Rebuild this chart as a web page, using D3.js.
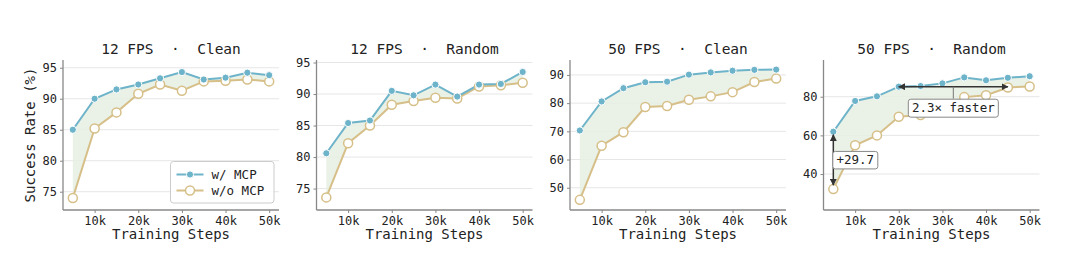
<!DOCTYPE html>
<html>
<head>
<meta charset="utf-8">
<script src="https://cdn.jsdelivr.net/npm/d3@7"></script>
<style>
  body { margin: 0; background: #fff; }
  text { font-family: "DejaVu Sans Mono", monospace; fill: #222; white-space: pre; }
</style>
</head>
<body>
<div id="chart_area"></div>
<script>
// training steps (k)
var steps = [5, 10, 15, 20, 25, 30, 35, 40, 45, 50];
var xTicks = [10, 20, 30, 40, 50];

var titles = ["12 FPS  \u00b7  Clean", "12 FPS  \u00b7  Random", "50 FPS  \u00b7  Clean", "50 FPS  \u00b7  Random"];
var seriesNames = ["w/ MCP", "w/o MCP"];

// success rate (%)
var mcp12Clean   = [85.0, 90.0, 91.5, 92.3, 93.3, 94.3, 93.1, 93.4, 94.2, 93.8];
var base12Clean  = [74.0, 85.2, 87.8, 90.8, 92.3, 91.3, 92.8, 92.9, 93.1, 92.8];
var mcp12Random  = [80.6, 85.4, 85.8, 90.5, 89.8, 91.5, 89.6, 91.5, 91.6, 93.5];
var base12Random = [73.6, 82.2, 85.0, 88.3, 88.9, 89.4, 89.3, 91.2, 91.4, 91.8];
var mcp50Clean   = [70.3, 80.6, 85.3, 87.4, 87.6, 90.1, 90.9, 91.5, 91.8, 91.9];
var base50Clean  = [45.7, 64.9, 69.7, 78.6, 79.0, 81.2, 82.4, 83.9, 87.5, 88.7];
var mcp50Random  = [61.9, 77.8, 80.2, 85.2, 85.5, 86.9, 90.0, 88.5, 89.8, 90.6];
var base50Random = [32.2, 54.9, 60.0, 69.6, 70.5, 74.0, 79.8, 80.8, 84.8, 85.3];

var yTicks = [[75, 80, 85, 90, 95], [75, 80, 85, 90, 95], [50, 60, 70, 80, 90], [40, 60, 80]];
var yDomains = [[72.05, 96.25], [71.6, 95.4], [42.1, 95.3], [21.4, 99]];

// annotation labels for last panel
var gainLabel = "+29.7";
var speedLabel = "2.3\u00d7 faster";

var panels = [
  {title: titles[0], mcp: mcp12Clean, base: base12Clean, ticks: yTicks[0], dom: yDomains[0]},
  {title: titles[1], mcp: mcp12Random, base: base12Random, ticks: yTicks[1], dom: yDomains[1]},
  {title: titles[2], mcp: mcp50Clean, base: base50Clean, ticks: yTicks[2], dom: yDomains[2]},
  {title: titles[3], mcp: mcp50Random, base: base50Random, ticks: yTicks[3], dom: yDomains[3]}
];

var blue = "#6db3c9", tan = "#d6bf88", fillCol = "#e6efe2";

var frame = d3.select("#chart_area").append("svg")
  .attr("width", 1080).attr("height", 255);

var defs = frame.append("defs");
defs.append("marker").attr("id", "arrow")
  .attr("viewBox", "0 0 10 10").attr("refX", 9).attr("refY", 5)
  .attr("markerWidth", 7).attr("markerHeight", 7).attr("orient", "auto-start-reverse")
  .attr("markerUnits", "userSpaceOnUse")
  .append("path").attr("d", "M0,0 L10,5 L0,10 z").attr("fill", "#333");

var lefts = [63, 316.5, 570, 823.5];
var plotTop = 60, plotBottom = 210, plotWidth = 216;

panels.forEach(function(p, i) {
  var g = frame.append("g").attr("transform", "translate(" + lefts[i] + ",0)");
  var x = d3.scaleLinear().domain([2.75, 52.25]).range([0, plotWidth]);
  var y = d3.scaleLinear().domain(p.dom).range([plotBottom, plotTop]);

  // grid
  g.append("g").selectAll("line").data(p.ticks).enter().append("line")
    .attr("x1", 0).attr("x2", plotWidth)
    .attr("y1", function(d) { return y(d); }).attr("y2", function(d) { return y(d); })
    .attr("stroke", "#e6e6e6").attr("stroke-width", 1);

  // fill between
  var area = d3.area()
    .x(function(d, j) { return x(steps[j]); })
    .y0(function(d, j) { return y(p.base[j]); })
    .y1(function(d) { return y(d); });
  g.append("path").datum(p.mcp).attr("d", area).attr("fill", fillCol).attr("opacity", 0.85);

  // axes
  var xAxis = d3.axisBottom(x).tickValues(xTicks).tickSize(3).tickPadding(3)
    .tickFormat(function(d) { return d + "k"; });
  var yAxis = d3.axisLeft(y).tickValues(p.ticks).tickSize(3).tickPadding(3);
  var gx = g.append("g").attr("transform", "translate(0," + plotBottom + ")").call(xAxis);
  var gy = g.append("g").call(yAxis);
  [gx, gy].forEach(function(a) {
    a.select(".domain").attr("stroke", "#888").attr("stroke-width", 1.3);
    a.selectAll(".tick line").attr("stroke", "#888");
    a.selectAll(".tick text").attr("font-size", 12).attr("fill", "#222")
      .style("font-family", "DejaVu Sans Mono, monospace");
  });
  gx.select(".domain").attr("d", "M0,0H" + plotWidth);
  gy.select(".domain").attr("d", "M0," + plotTop + "V" + plotBottom);

  var line = d3.line().x(function(d, j) { return x(steps[j]); }).y(function(d) { return y(d); });

  g.append("path").datum(p.base).attr("d", line)
    .attr("fill", "none").attr("stroke", tan).attr("stroke-width", 2);
  g.append("path").datum(p.mcp).attr("d", line)
    .attr("fill", "none").attr("stroke", blue).attr("stroke-width", 2);

  g.append("g").selectAll("circle").data(p.base).enter().append("circle")
    .attr("cx", function(d, j) { return x(steps[j]); })
    .attr("cy", function(d) { return y(d); })
    .attr("r", 4.5).attr("fill", "#fff").attr("stroke", tan).attr("stroke-width", 1.5);
  g.append("g").selectAll("circle").data(p.mcp).enter().append("circle")
    .attr("cx", function(d, j) { return x(steps[j]); })
    .attr("cy", function(d) { return y(d); })
    .attr("r", 3.6).attr("fill", blue).attr("stroke", "#fff").attr("stroke-width", 1);

  // title
  g.append("text").attr("x", plotWidth / 2).attr("y", 54).attr("text-anchor", "middle")
    .attr("font-size", 14.5).text(p.title);

  // x label
  g.append("text").attr("x", plotWidth / 2).attr("y", 239).attr("text-anchor", "middle")
    .attr("font-size", 14).text("Training Steps");

  if (i === 0) {
    g.append("text").attr("transform", "translate(-28," + (plotTop + plotBottom) / 2 + ") rotate(-90)")
      .attr("text-anchor", "middle").attr("font-size", 14).text("Success Rate (%)");

    // legend
    var lg = g.append("g").attr("transform", "translate(107.5,161.5)");
    lg.append("rect").attr("width", 103.5).attr("height", 41.5).attr("rx", 3)
      .attr("fill", "#fff").attr("fill-opacity", 0.85).attr("stroke", "#ccc");
    [[blue, 0], [tan, 1]].forEach(function(s, k) {
      var yy = 13 + k * 16;
      lg.append("line").attr("x1", 6).attr("x2", 33).attr("y1", yy).attr("y2", yy)
        .attr("stroke", s[0]).attr("stroke-width", 2);
      if (k === 0) {
        lg.append("circle").attr("cx", 19.5).attr("cy", yy).attr("r", 3.6)
          .attr("fill", blue).attr("stroke", "#fff");
      } else {
        lg.append("circle").attr("cx", 19.5).attr("cy", yy).attr("r", 4.5)
          .attr("fill", "#fff").attr("stroke", tan).attr("stroke-width", 1.5);
      }
      lg.append("text").attr("x", 41).attr("y", yy + 4.5).attr("font-size", 12.5)
        .text(seriesNames[k]);
    });
  }

  if (i === 3) {
    // vertical gain arrow at first step
    var ax = x(steps[0]);
    g.append("line").attr("x1", ax).attr("x2", ax)
      .attr("y1", y(p.base[0]) - 4).attr("y2", y(p.mcp[0]) + 3)
      .attr("stroke", "#333").attr("stroke-width", 1.5)
      .attr("marker-start", "url(#arrow)").attr("marker-end", "url(#arrow)");
    var midY = (y(p.base[0]) + y(p.mcp[0])) / 2;
    var gb = g.append("g").attr("transform", "translate(" + (ax - 0.5) + "," + (midY - 9) + ")");
    gb.append("rect").attr("width", 45).attr("height", 17.5).attr("rx", 2.5)
      .attr("fill", "#fff").attr("stroke", "#888");
    gb.append("text").attr("x", 22.5).attr("y", 13).attr("text-anchor", "middle")
      .attr("font-size", 12.5).text(gainLabel);

    // horizontal speed-up arrow
    var hy = y(p.mcp[3]);
    var hx1 = x(steps[3]), hx2 = x(steps[8]);
    g.append("line").attr("x1", hx1).attr("x2", hx2).attr("y1", hy).attr("y2", hy)
      .attr("stroke", "#333").attr("stroke-width", 1.5)
      .attr("marker-start", "url(#arrow)").attr("marker-end", "url(#arrow)");
    var cx = (hx1 + hx2) / 2;
    g.append("line").attr("x1", cx).attr("x2", cx).attr("y1", hy).attr("y2", hy + 12)
      .attr("stroke", "#777").attr("stroke-width", 1);
    var sb = g.append("g").attr("transform", "translate(" + (cx - 45) + "," + (hy + 12.5) + ")");
    sb.append("rect").attr("width", 90).attr("height", 18).attr("rx", 2.5)
      .attr("fill", "#fff").attr("stroke", "#888");
    sb.append("text").attr("x", 45).attr("y", 13.3).attr("text-anchor", "middle")
      .attr("font-size", 12.5).text(speedLabel);
  }
});
</script>
</body>
</html>
